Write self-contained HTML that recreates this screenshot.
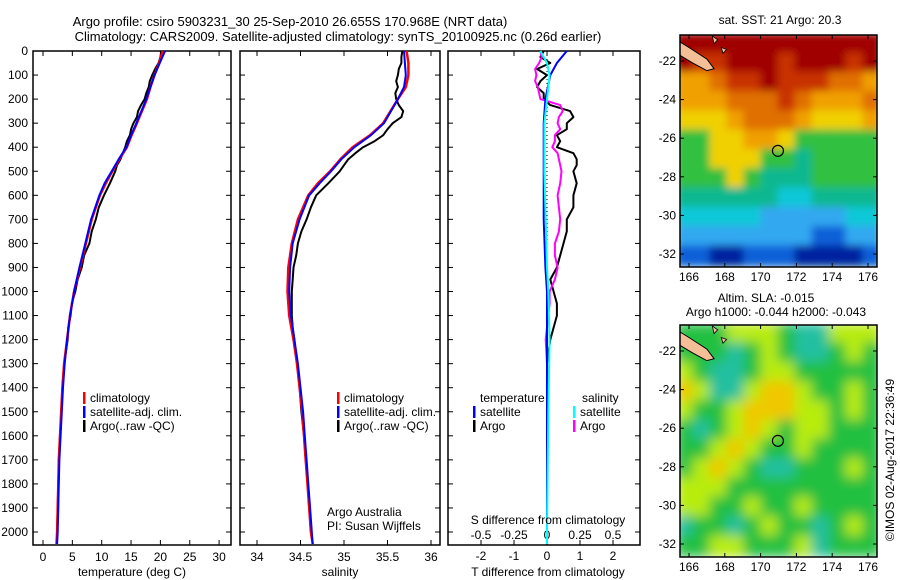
<!DOCTYPE html>
<html><head><meta charset="utf-8">
<style>
html,body{margin:0;padding:0;background:#fff;}
svg{display:block;font-family:"Liberation Sans",sans-serif;font-size:12px;}
</style></head>
<body>
<svg id="fig" width="900" height="580" viewBox="0 0 900 580">
<defs>
<filter id="blurA" x="0" y="0" width="1" height="1"><feGaussianBlur stdDeviation="4"/></filter>
<filter id="blurB" x="0" y="0" width="1" height="1"><feGaussianBlur stdDeviation="6"/></filter>
<clipPath id="clipTop"><rect x="680" y="35" width="197" height="232"/></clipPath>
<clipPath id="clipBot"><rect x="680" y="325" width="197" height="232"/></clipPath>
</defs>
<text x="290" y="26" text-anchor="middle" font-size="13">Argo profile: csiro 5903231_30 25-Sep-2010 26.655S 170.968E (NRT data)</text>
<text x="338" y="41" text-anchor="middle" font-size="13">Climatology: CARS2009. Satellite-adjusted climatology: synTS_20100925.nc (0.26d earlier)</text>
<g id="g"></g>
</svg>
<script>
// ---- data ----
const depthsClim = [0,50,100,150,200,300,350,400,450,500,550,600,700,800,900,1000,1100,1200,1300,1400,1500,1600,1700,1800,1900,2000,2050];
const tempClim   = [20.4,19.8,19.0,18.3,17.7,16.0,15.1,14.3,13.0,11.8,10.7,9.7,8.3,7.3,6.3,5.3,4.6,4.1,3.6,3.3,3.1,2.9,2.7,2.6,2.5,2.4,2.3];
const tempSat    = [20.8,19.9,19.0,18.3,17.6,15.9,15.0,14.2,12.9,11.7,10.5,9.6,8.2,7.2,6.2,5.3,4.6,4.1,3.7,3.4,3.2,3.0,2.8,2.7,2.6,2.5,2.4];
const salClim    = [35.72,35.74,35.74,35.71,35.62,35.45,35.30,35.10,34.96,34.84,34.70,34.59,34.47,34.40,34.36,34.35,34.37,34.42,34.46,34.49,34.52,34.54,34.56,34.58,34.60,34.62,34.64];
const salSat     = [35.69,35.70,35.71,35.69,35.62,35.46,35.31,35.12,34.97,34.85,34.72,34.60,34.49,34.41,34.38,34.37,34.39,34.43,34.47,34.50,34.53,34.55,34.57,34.59,34.61,34.63,34.64];
const depthsArgo = [0,25,50,75,100,125,150,175,200,225,250,275,300,325,350,375,400,425,450,475,500,550,600,650,700,750,800,850,900,950,1000,1050,1100,1150,1200,1300,1400,1500,1600,1700,1800,1900,2000];
const tempArgo   = [20.2,20.0,19.7,19.1,18.6,18.2,18.0,17.6,17.3,16.7,16.2,16.0,15.4,15.0,14.8,14.3,14.0,13.6,13.2,12.6,12.3,11.4,10.4,9.5,9.0,8.3,7.9,7.0,6.6,5.9,5.5,4.9,4.7,4.3,4.2,3.6,3.3,3.1,2.9,2.7,2.6,2.5,2.4];
const salArgo    = [35.67,35.66,35.66,35.63,35.62,35.60,35.62,35.59,35.60,35.63,35.68,35.66,35.56,35.50,35.45,35.35,35.22,35.13,35.05,35.00,34.95,34.82,34.68,34.62,34.57,34.51,34.47,34.45,34.42,34.41,34.40,34.40,34.40,34.41,34.43,34.46,34.49,34.51,34.54,34.56,34.58,34.60,34.62];
const tDiffArgo  = [-0.1,-0.2,0.1,-0.3,0.0,-0.2,-0.3,-0.1,-0.1,0.1,0.7,0.8,0.6,0.6,0.3,0.4,0.3,0.8,0.9,0.9,0.8,0.9,0.8,0.8,0.6,0.6,0.5,0.4,0.3,0.1,0.2,0.3,0.3,0.2,0.1,0.0,0.0,0.0,0.0,0.0,0.0,0.0,0.0];
const sDiffArgo  = [-0.05,-0.04,-0.06,-0.09,-0.08,-0.09,-0.07,-0.06,-0.05,0.10,0.12,0.09,0.08,0.10,0.06,0.06,0.04,0.08,0.09,0.10,0.11,0.10,0.08,0.09,0.10,0.09,0.06,0.06,0.08,0.06,0.02,0.02,0.01,0.0,-0.01,0.0,0.0,0.0,0.0,0.0,0.0,0.0,0.0];
const depthsDiff = [0,50,100,200,300,500,700,900,1000,1200,1500,2000,2050];
const tDiffSat   = [0.6,0.3,0.1,-0.05,-0.1,-0.1,-0.1,-0.05,0.0,0.0,0.0,0.0,0.0];
const sDiffSat   = [-0.05,0.0,0.02,0.0,-0.02,-0.02,-0.01,0.0,0.01,0.02,0.01,0.0,0.0];
const depthTicks = [0,100,200,300,400,500,600,700,800,900,1000,1100,1200,1300,1400,1500,1600,1700,1800,1900,2000];
const tempTicks = [0,5,10,15,20,25,30];
const salTicks = [34,34.5,35,35.5,36];
const salTickLabels = ["34","34.5","35","35.5","36"];
const tDiffTicks = [-2,-1,0,1,2];
const sDiffTicks = [-0.5,-0.25,0,0.25,0.5];
const sDiffTickLabels = ["-0.5","-0.25","0","0.25","0.5"];
const lonTicks = [166,168,170,172,174,176];
const latTicks = [-22,-24,-26,-28,-30,-32];
const argoLon = 170.968, argoLat = -26.655;
// map grids (rows north->south, lat -20.6..-32.6; cols lon 165.3..176.7)
const sstRows = ["000000000000","011000100010","332110111223","333222123332","444322234443","664433466666","664446676666","666467776666","777777887777","888889999988","99999999AA99","AABBAAABBBBA"];
const slaRows = ["GGGYYYGTTYYY","GGGTGYGTTGYG","YGTTGYYGGGGG","OYTTYOOYGGYG","YGGYOOOYYGYG","GTGYOYGYYGGG","GGYOYGGYGGGG","GYOYGTTGGGYG","YYYGGGGGGGGG","YYGGYGGYGGGG","TGGTGYGGTGYG","GGYYGGGYTGGG"];
</script>
<script>
const NS="http://www.w3.org/2000/svg";
const G=document.getElementById('g');
function mk(tag,attrs,parent){const e=document.createElementNS(NS,tag);for(const k in attrs)e.setAttribute(k,attrs[k]);(parent||G).appendChild(e);return e;}
function txt(x,y,s,anchor,parent,size){const t=mk('text',{x:x,y:y,'text-anchor':anchor||'start'},parent);if(size)t.setAttribute('font-size',size);t.textContent=s;return t;}
const Y0=51,Y1=545,DMAX=2054;
const yD=d=>Y0+(Y1-Y0)*d/DMAX;
function panel(x0,x1,name){
  const r=mk('rect',{x:x0,y:Y0,width:x1-x0,height:Y1-Y0,fill:'none',stroke:'#000','stroke-width':1.5});
  
  
  depthTicks.forEach(d=>{mk('line',{x1:x0,x2:x0+5,y1:yD(d),y2:yD(d),stroke:'#000'});mk('line',{x1:x1,x2:x1-5,y1:yD(d),y2:yD(d),stroke:'#000'});});
}
function line(xs,ds,xf,color,w,name){
  let p='';xs.forEach((v,i)=>{p+=(i?'L':'M')+xf(v).toFixed(1)+','+yD(ds[i]).toFixed(1);});
  const e=mk('path',{d:p,fill:'none',stroke:color,'stroke-width':w,'stroke-linejoin':'round'});
  
  
}
function legendEntry(x,y,color,label,name){
  const g=mk('g',{});
  
  
  mk('rect',{x:x,y:y-10,width:2.5,height:12,fill:color},g);
  txt(x+7,y,label,'start',g);
}
const dl=mk('g',{});


depthTicks.forEach(d=>txt(28,yD(d)+4,String(d),'end',dl));

// panel 1 temperature
const xT=t=>43+5.87*t;
panel(33,231,'temperature-panel');
tempTicks.forEach(t=>{mk('line',{x1:xT(t),x2:xT(t),y1:Y0,y2:Y0+5,stroke:'#000'});mk('line',{x1:xT(t),x2:xT(t),y1:Y1,y2:Y1-5,stroke:'#000'});txt(xT(t),561,String(t),'middle');});
txt(132,576,'temperature (deg C)','middle');
line(tempArgo,depthsArgo,xT,'#000',2,'temp-argo-line');
line(tempClim,depthsClim,xT,'#f00',2.5,'temp-climatology-line');
line(tempSat,depthsClim,xT,'#00f',2,'temp-satellite-line');
legendEntry(83,402,'#f00','climatology','temp-legend-climatology');
legendEntry(83,416,'#00f','satellite-adj. clim.','temp-legend-satellite');
legendEntry(83,430,'#000','Argo(..raw -QC)','temp-legend-argo');

// panel 2 salinity
const xS=s=>257+87*(s-34);
panel(240,440,'salinity-panel');
salTicks.forEach((s,i)=>{mk('line',{x1:xS(s),x2:xS(s),y1:Y0,y2:Y0+5,stroke:'#000'});mk('line',{x1:xS(s),x2:xS(s),y1:Y1,y2:Y1-5,stroke:'#000'});txt(xS(s),561,salTickLabels[i],'middle');});
txt(340,576,'salinity','middle');
line(salArgo,depthsArgo,xS,'#000',2,'sal-argo-line');
line(salClim,depthsClim,xS,'#f00',2.5,'sal-climatology-line');
line(salSat,depthsClim,xS,'#00f',2,'sal-satellite-line');
legendEntry(337,402,'#f00','climatology','sal-legend-climatology');
legendEntry(337,416,'#00f','satellite-adj. clim.','sal-legend-satellite');
legendEntry(337,430,'#000','Argo(..raw -QC)','sal-legend-argo');
txt(327,516,'Argo Australia');
txt(327,530,'PI: Susan Wijffels');

// panel 3 differences
const xTd=t=>547+33*t, xSd=s=>547+132*s;
panel(448,640,'difference-panel');
tDiffTicks.forEach(t=>{mk('line',{x1:xTd(t),x2:xTd(t),y1:Y0,y2:Y0+5,stroke:'#000'});mk('line',{x1:xTd(t),x2:xTd(t),y1:Y1,y2:Y1-5,stroke:'#000'});txt(xTd(t),560,String(t),'middle');});
sDiffTicks.forEach((s,i)=>txt(xSd(s),539,sDiffTickLabels[i],'middle'));
mk('line',{x1:547,x2:547,y1:Y0,y2:Y1,stroke:'#000','stroke-dasharray':'1,3'});
line(tDiffArgo,depthsArgo,xTd,'#000',2,'tdiff-argo-line');
line(sDiffArgo,depthsArgo,xSd,'#f0f',2,'sdiff-argo-line');
line(tDiffSat,depthsDiff,xTd,'#00f',2,'tdiff-satellite-line');
line(sDiffSat,depthsDiff,xSd,'#0ff',2,'sdiff-satellite-line');
txt(480,402,'temperature');
txt(582,402,'salinity');
legendEntry(473,416,'#00f','satellite','tdiff-legend-satellite');
legendEntry(473,430,'#000','Argo','tdiff-legend-argo');
legendEntry(573,416,'#0ff','satellite','sdiff-legend-satellite');
legendEntry(573,430,'#f0f','Argo','sdiff-legend-argo');
txt(548,524,'S difference from climatology','middle');
txt(548,576,'T difference from climatology','middle');

// maps
const sstColors={'0':'#a00000','1':'#c83000','2':'#e07000','3':'#f0a000','4':'#f0d000','5':'#c8e800','6':'#30c040','7':'#10b890','8':'#10c8d8','9':'#30a8f0','A':'#1060d8','B':'#0020a0'};
const slaColors={'G':'#20c040','Y':'#b8ec10','O':'#f0c800','T':'#20c0a0'};
function map(top,bottom,rows,colors,clip,filter,name){
  const x0=680,x1=877;
  const lonX=l=>689+17.9*(l-166);
  const latY=(top===35)?(l=>61+19.3*(-22-l)):(l=>351+19.3*(-22-l));
  const g=mk('g',{'clip-path':'url(#'+clip+')'});
  
  
  const gi=mk('g',{filter:'url(#'+filter+')'},g);
  mk('rect',{x:x0,y:top,width:x1-x0,height:bottom-top,fill:colors[rows[6][6]]},gi);
  const nr=rows.length,nc=rows[0].length,lat0=-20.6,dlat=12/nr,lon0=165.3,dlon=11.4/nc;
  rows.forEach((row,i)=>{for(let j=0;j<nc;j++){
    const xa=lonX(lon0+j*dlon),ya=latY(lat0-i*dlat);
    mk('rect',{x:xa-1,y:ya-1,width:17.9*dlon+2,height:19.3*dlat+2,fill:colors[row[j]]},gi);
  }});
  mk('path',{d:`M${lonX(165.3)},${latY(-20.9)} L${lonX(166.0)},${latY(-21.3)} L${lonX(167.0)},${latY(-21.9)} L${lonX(167.4)},${latY(-22.4)} L${lonX(167.0)},${latY(-22.5)} L${lonX(166.2)},${latY(-22.1)} L${lonX(165.3)},${latY(-21.6)} Z`,fill:'#f4bf96',stroke:'#000','stroke-width':1},g);
  mk('path',{d:`M${lonX(167.3)},${latY(-20.7)} L${lonX(167.6)},${latY(-20.9)} L${lonX(167.4)},${latY(-21.1)} Z`,fill:'#f4bf96',stroke:'#000','stroke-width':0.8},g);
  mk('path',{d:`M${lonX(167.8)},${latY(-21.3)} L${lonX(168.1)},${latY(-21.4)} L${lonX(167.9)},${latY(-21.6)} Z`,fill:'#f4bf96',stroke:'#000','stroke-width':0.8},g);
  const c=mk('circle',{cx:lonX(argoLon),cy:latY(argoLat),r:5.5,fill:'none',stroke:'#000','stroke-width':1.2},g);
  
  
  mk('rect',{x:x0,y:top,width:x1-x0,height:bottom-top,fill:'none',stroke:'#000','stroke-width':1.5});
  lonTicks.forEach(l=>{mk('line',{x1:lonX(l),x2:lonX(l),y1:top,y2:top+4,stroke:'#000'});mk('line',{x1:lonX(l),x2:lonX(l),y1:bottom,y2:bottom-4,stroke:'#000'});txt(lonX(l),bottom+14,String(l),'middle');});
  latTicks.forEach(l=>{mk('line',{x1:x0,x2:x0+4,y1:latY(l),y2:latY(l),stroke:'#000'});mk('line',{x1:x1,x2:x1-4,y1:latY(l),y2:latY(l),stroke:'#000'});txt(x0-4,latY(l)+4,String(l),'end');});
}
map(35,267,sstRows,sstColors,'clipTop','blurA','sst-map');
map(325,557,slaRows,slaColors,'clipBot','blurB','sla-map');
txt(780,24,'sat. SST: 21 Argo: 20.3','middle');
txt(766,302,'Altim. SLA: -0.015','middle');
txt(776,316,'Argo h1000: -0.044 h2000: -0.043','middle');
const ts=txt(0,0,'©IMOS 02-Aug-2017 22:36:49','middle');
ts.setAttribute('transform','translate(894,460) rotate(-90)');


</script>
</body></html>
